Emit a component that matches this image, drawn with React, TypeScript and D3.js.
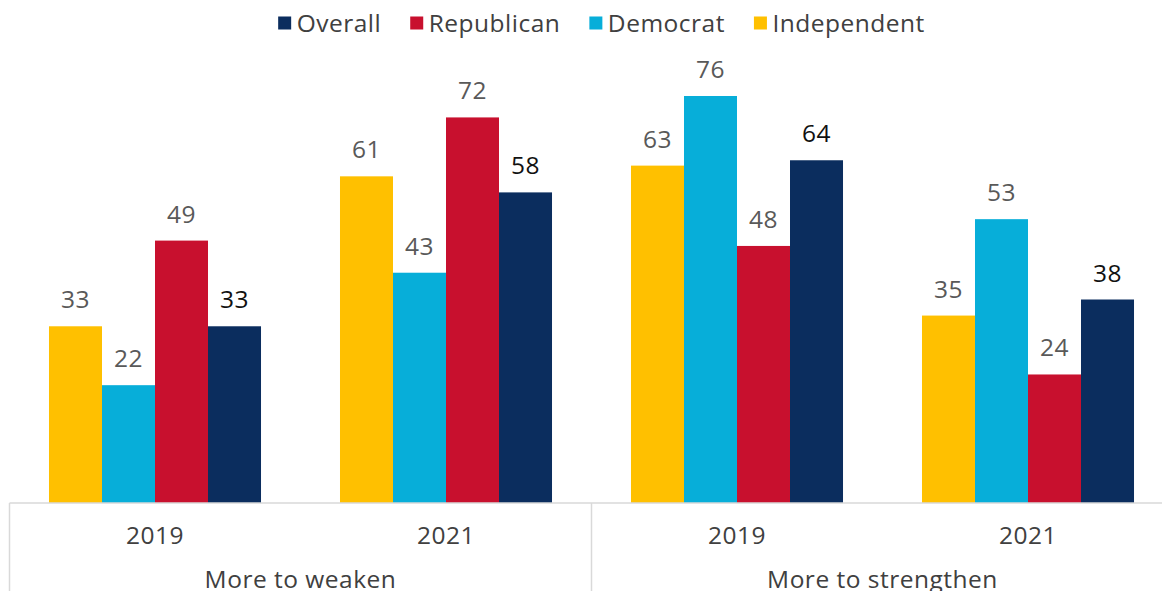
import React, { useRef, useEffect } from 'react';
import * as d3 from 'd3';

// Chart data
const GROUPS = ['More to weaken', 'More to strengthen'];
const YEARS = ['2019', '2021'];
const SERIES = ['Independent', 'Democrat', 'Republican', 'Overall'];
const LEGEND_ORDER = ['Overall', 'Republican', 'Democrat', 'Independent'];

const INDEPENDENT = [33, 61, 63, 35];
const DEMOCRAT = [22, 43, 76, 53];
const REPUBLICAN = [49, 72, 48, 24];
const OVERALL = [33, 58, 64, 38];

const COLORS: { [key: string]: string } = {
  Overall: '#0b2d5e',
  Republican: '#c8102e',
  Democrat: '#07aed9',
  Independent: '#ffc000',
};

const WIDTH = 1162;
const HEIGHT = 591;
const FONT = "'Open Sans', 'Noto Sans', sans-serif";
const FONT_SIZE = 24.5;
const SPACING = 0.5;

const App: React.FC = () => {
  const svgRef = useRef<SVGSVGElement>(null);

  useEffect(() => {
    document.body.style.margin = '0';
    if (!svgRef.current) return;
    const svg = d3.select(svgRef.current);
    svg.selectAll('*').remove();

    const values: { [key: string]: number[] } = {
      Independent: INDEPENDENT,
      Democrat: DEMOCRAT,
      Republican: REPUBLICAN,
      Overall: OVERALL,
    };

    // categories: every group x year
    const cats = GROUPS.flatMap(g => YEARS.map(y => `${g}|${y}`));

    const plotLeft = 9.5;
    const plotRight = plotLeft + 291 * cats.length; // runs off the right edge like the original
    const baseY = 503;

    const x0 = d3.scaleBand<string>()
      .domain(cats)
      .range([plotLeft, plotRight]);

    const x1 = d3.scaleBand<string>()
      .domain(SERIES)
      .range([0, x0.bandwidth()])
      .paddingOuter(0.745)
      .paddingInner(0);

    const y = d3.scaleLinear()
      .domain([0, 76])
      .range([baseY, 96]);

    // bars + value labels
    cats.forEach((cat, ci) => {
      const g = svg.append('g').attr('transform', `translate(${x0(cat)},0)`);
      SERIES.forEach(s => {
        const v = values[s][ci];
        g.append('rect')
          .attr('x', x1(s)!)
          .attr('y', y(v))
          .attr('width', x1.bandwidth())
          .attr('height', baseY - y(v))
          .attr('fill', COLORS[s]);
        g.append('text')
          .attr('x', x1(s)! + x1.bandwidth() / 2)
          .attr('y', y(v) - 18)
          .attr('text-anchor', 'middle')
          .attr('font-family', FONT)
          .attr('font-size', FONT_SIZE)
          .attr('letter-spacing', SPACING)
          .attr('fill', s === 'Overall' ? '#111111' : '#595959')
          .text(v);
      });
    });

    // axis line and category separators
    const axisColor = '#d9d9d9';
    svg.append('line')
      .attr('x1', plotLeft).attr('x2', WIDTH)
      .attr('y1', baseY).attr('y2', baseY)
      .attr('stroke', axisColor).attr('stroke-width', 1.5);

    GROUPS.forEach(grp => {
      const gx = x0(`${grp}|${YEARS[0]}`)!;
      svg.append('line')
        .attr('x1', gx).attr('x2', gx)
        .attr('y1', baseY).attr('y2', HEIGHT)
        .attr('stroke', axisColor).attr('stroke-width', 1.5);
      const groupCenter = gx + x0.bandwidth() * YEARS.length / 2;
      svg.append('text')
        .attr('x', groupCenter)
        .attr('y', 588)
        .attr('text-anchor', 'middle')
        .attr('font-family', FONT)
        .attr('font-size', FONT_SIZE)
        .attr('letter-spacing', SPACING)
        .attr('fill', '#404040')
        .text(grp);
    });

    cats.forEach(cat => {
      svg.append('text')
        .attr('x', x0(cat)! + x0.bandwidth() / 2)
        .attr('y', 544)
        .attr('text-anchor', 'middle')
        .attr('font-family', FONT)
        .attr('font-size', FONT_SIZE)
        .attr('letter-spacing', SPACING)
        .attr('fill', '#404040')
        .text(cat.split('|')[1]);
    });

    // legend, centred at the top
    const legend = svg.append('g');
    let cursor = 0;
    const itemGap = 29;
    LEGEND_ORDER.forEach(s => {
      const item = legend.append('g').attr('transform', `translate(${cursor},0)`);
      item.append('rect')
        .attr('x', 0).attr('y', 16.5)
        .attr('width', 13).attr('height', 13)
        .attr('fill', COLORS[s]);
      const t = item.append('text')
        .attr('x', 18.5).attr('y', 32)
        .attr('font-family', FONT)
        .attr('font-size', FONT_SIZE)
        .attr('letter-spacing', SPACING)
        .attr('fill', '#404040')
        .text(s);
      const w = (t.node() as SVGTextElement).getComputedTextLength();
      cursor += 18.5 + w + itemGap;
    });
    const legendWidth = cursor - itemGap;
    legend.attr('transform', `translate(${(279 + 924) / 2 - legendWidth / 2},0)`);
  }, []);

  return (
    <svg ref={svgRef} width={WIDTH} height={HEIGHT} style={{ display: 'block', background: '#ffffff' }} />
  );
};

export default App;
